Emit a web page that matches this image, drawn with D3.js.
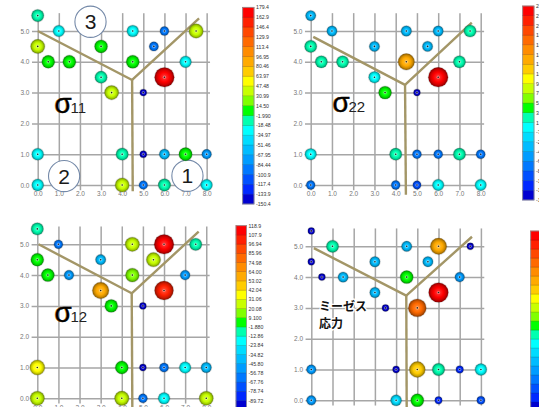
<!DOCTYPE html>
<html>
<head>
<meta charset="utf-8">
<script src="https://cdn.jsdelivr.net/npm/d3@7"></script>
<style>
html, body { margin: 0; padding: 0; background: #fff; }
svg { display: block; }
</style>
</head>
<body>
<svg id="chart" width="539" height="407"></svg>
<script>
// Node coordinates of the joint model (shared by all four stress maps)
const nodeX = [0, 1, 4.5, 6, 7.5, 0, 3, 5.5, 0.5, 1.5, 4.5, 7, 3, 6, 3.5, 5, 0, 4, 5, 6, 7, 8, 0, 4, 5, 6, 8];
const nodeY = [5.5, 5, 5, 5, 5, 4.5, 4.5, 4.5, 4, 4, 4, 4, 3.5, 3.5, 3, 3, 1, 1, 1, 1, 1, 1, 0, 0, 0, 0, 0];

// Stress values at each node
const sigma11 = [-10, -27, -25, -93, 40, 35, 6, -85, 5, 8, 10, -24, -12, 170, 36, -145, -20, -10, -140, -60, 12, -75, -19, 33, -100, -8, -28];
const sigma22 = [-37, -37, -30, -37, 20, 18, -37, -35, 20, 20, 140, 20, 0, 236, 40, -140, 0, 20, -75, -75, 20, -70, -78, -78, -95, -2, -5];
const sigma12 = [-7, -65, 25, 113, -7, 3, -40, 25, 4, -50, 15, -48, 62, 100, 3, -96, 36, 4, -96, -60, -18, -38, 25, 27, -62, -18, 22];
const mises   = [10, 115, 78, 195, 10, 12, 80, 78, 12, 76, 130, 65, 78, 258, 12, 225, 62, 12, 185, 118, 22, 105, 62, 90, 130, 20, 35];

// Colour legend boundaries, top to bottom
const legend11 = ["179.4", "162.9", "146.4", "129.9", "113.4", "96.95", "80.46", "63.97", "47.48", "30.99", "14.50", "-1.990", "-18.48", "-34.97", "-51.46", "-67.95", "-84.44", "-100.9", "-117.4", "-133.9", "-150.4"];
const legend22 = ["246.0", "226.5", "207.0", "187.5", "168.0", "148.5", "129.0", "109.5", "90.00", "70.50", "51.00", "31.50", "12.00", "-7.500", "-27.00", "-46.50", "-66.00", "-85.50", "-105.0", "-124.5", "-144.0"];
const legend12 = ["118.9", "107.9", "96.94", "85.96", "74.98", "64.00", "53.02", "42.04", "31.06", "20.08", "9.100", "-1.880", "-12.86", "-23.84", "-34.82", "-45.80", "-56.78", "-67.76", "-78.74", "-89.72", "-100.7"];
const legendMises = ["265.0", "252.0", "239.0", "226.0", "213.0", "200.0", "187.0", "174.0", "161.0", "148.0", "135.0", "122.0", "109.0", "96.00", "83.00", "70.00", "57.00", "44.00", "31.00", "18.00", "5.000"];

// Contour band colours, lowest band first
const bandColors = ["#0000d0", "#0028ff", "#0050ff", "#0078ff", "#009cff", "#00bcff", "#00dcff", "#00ffff", "#00ffb0", "#00ff00",
                    "#80ff00", "#c8ff00", "#ffff00", "#ffcc00", "#ffaa00", "#ff8c00", "#ff6a00", "#ff4800", "#ff2000", "#ff0000"];

const xTicks = [0, 1, 2, 3, 4, 5, 6, 7, 8];
const yTicks = [0, 1, 2, 3, 4, 5];

// Grain-boundary traces (branch: left end, triple junction, right end; stem: junction to bottom)
const branch11 = [[0, 5.0], [4.47, 3.41], [7.64, 5.41]];
const stem11 = [[4.47, 3.41], [4.5, -0.2]];
const branch22 = [[0.12, 4.81], [4.44, 3.25], [7.58, 5.27]];
const stem22 = [[4.44, 3.25], [4.48, -0.32]];
const branch12 = [[0.06, 5.0], [4.47, 3.41], [7.64, 5.41]];
const stem12 = [[4.47, 3.41], [4.5, -0.35]];
const branchMises = [[0.12, 4.94], [4.48, 3.40], [7.58, 5.31]];
const stemMises = [[4.48, 3.40], [4.5, -0.35]];

const svg = d3.select("#chart");
const defs = svg.append("defs");

// One shaded-sphere gradient per band colour
bandColors.forEach((c, i) => {
  const g = defs.append("radialGradient").attr("id", "ball" + i)
    .attr("cx", "50%").attr("cy", "50%").attr("r", "50%");
  g.append("stop").attr("offset", "0%").attr("stop-color", d3.interpolateRgb(c, "#fff")(0.25));
  g.append("stop").attr("offset", "50%").attr("stop-color", c);
  g.append("stop").attr("offset", "76%").attr("stop-color", d3.rgb(c).darker(0.55).formatHex());
  g.append("stop").attr("offset", "100%").attr("stop-color", d3.rgb(c).darker(1.8).formatHex());
});

function drawPanel(o) {
  const x = d3.scaleLinear().domain([0, 8]).range([o.x0, o.x0 + 8 * o.xStep]);
  const y = d3.scaleLinear().domain([0, 5]).range([o.y0, o.y0 - 5 * o.yStep]);
  const g = svg.append("g");

  const top = y(5.58), bottom = y(-0.17), left = x(-0.27), right = x(8.16);

  const styleAxis = a => {
    a.attr("font-family", "'Liberation Sans', Arial, sans-serif").attr("font-size", 6.5);
    a.select(".domain").remove();
    a.selectAll(".tick line").attr("stroke", "#a6a6a6").attr("stroke-width", 1.5);
    a.selectAll(".tick text").attr("fill", "#777");
  };

  g.append("g").attr("transform", `translate(0,${bottom})`)
    .call(d3.axisBottom(x).tickValues(xTicks).tickFormat(d3.format(".1f"))
      .tickSize(-(bottom - top)).tickPadding(1.5))
    .call(styleAxis);

  g.append("g").attr("transform", `translate(${left},0)`)
    .call(d3.axisLeft(y).tickValues(yTicks).tickFormat(d3.format(".1f"))
      .tickSize(-(right - left)).tickPadding(2.5))
    .call(styleAxis);

  if (o.extra) o.extra(g, x, y);

  // boundary traces
  const line = d3.line().x(d => x(d[0])).y(d => y(d[1]));
  [o.branch, o.stem].forEach(pts => {
    g.append("path").attr("d", line(pts)).attr("fill", "none")
      .attr("stroke", "#a39667").attr("stroke-width", 2.4).attr("stroke-linejoin", "round");
  });

  // colour scale from the legend boundaries
  const bounds = o.legend.map(Number).slice().reverse();
  const color = d3.scaleThreshold().domain(bounds.slice(1, 20)).range(d3.range(20));
  const radius = d3.scaleLinear().domain([bounds[0], bounds[20]]).range([3.3, 10]);

  const nodes = o.values.map((v, i) => ({ x: nodeX[i], y: nodeY[i], v }))
    .sort((a, b) => a.v - b.v);
  const balls = g.append("g").selectAll("g").data(nodes).join("g")
    .attr("transform", d => `translate(${x(d.x)},${y(d.y)})`);
  balls.append("circle").attr("r", d => radius(d.v) + 0.7).attr("fill", "#000").attr("opacity", 0.15);
  balls.append("circle").attr("r", d => radius(d.v)).attr("fill", d => `url(#ball${color(d.v)})`);
  balls.append("circle").attr("r", 1.6).attr("fill", "#fff").attr("opacity", 0.35);
  balls.append("circle").attr("r", 0.8).attr("fill", "#222");

  // legend bar
  const yb = d3.scaleLinear().domain([bounds[0], bounds[20]]).range([o.bar.bottom, o.bar.top]);
  const bar = svg.append("g");
  bar.selectAll("rect").data(d3.range(20)).join("rect")
    .attr("x", o.bar.left).attr("width", o.bar.width)
    .attr("y", k => yb(bounds[k + 1])).attr("height", k => yb(bounds[k]) - yb(bounds[k + 1]))
    .attr("fill", k => bandColors[k])
    .attr("stroke", k => d3.rgb(bandColors[k]).darker(0.8).formatHex()).attr("stroke-width", 0.5);
  bar.append("rect").attr("x", o.bar.left).attr("width", o.bar.width)
    .attr("y", o.bar.top).attr("height", o.bar.bottom - o.bar.top)
    .attr("fill", "none").attr("stroke", "#9a9a9a").attr("stroke-width", 0.8);
  if (o.bar.labels) {
    const labels = o.legend.slice().reverse();
    bar.append("g").attr("transform", `translate(${o.bar.left + o.bar.width},0)`)
      .call(d3.axisRight(yb).tickValues(bounds).tickFormat((d, i) => labels[i]).tickSize(0).tickPadding(2))
      .call(a => {
        a.attr("font-family", "'Liberation Sans Narrow', 'Liberation Sans', Arial, sans-serif").attr("font-size", 5.2);
        a.select(".domain").remove();
        a.selectAll("text").attr("fill", "#333");
      });
  }

  if (o.title) o.title(g);
}

// callout circles used in the first map
function callouts(g, x, y) {
  const marks = [{ n: "3", cx: 2.5, cy: 5.3 }, { n: "2", cx: 1.25, cy: 0.29 }, { n: "1", cx: 7.09, cy: 0.3 }];
  marks.forEach(m => {
    g.append("circle").attr("cx", x(m.cx)).attr("cy", y(m.cy)).attr("r", 15.6)
      .attr("fill", "#fff").attr("stroke", "#7489a8").attr("stroke-width", 1.1);
    g.append("text").attr("x", x(m.cx)).attr("y", y(m.cy) + 7.5).attr("text-anchor", "middle")
      .attr("font-family", "'Liberation Sans', Arial, sans-serif").attr("font-size", 21)
      .attr("fill", "#1a1a1a").text(m.n);
  });
}

function sigmaTitle(sx, sy, sub) {
  return g => {
    g.append("text").attr("x", sx - 0.8).attr("y", sy)
      .attr("font-family", "'Liberation Sans', Arial, sans-serif").attr("font-size", 28)
      .attr("fill", "#e39a3a").attr("opacity", 0.85).text("σ");
    g.append("text").attr("x", sx).attr("y", sy)
      .attr("font-family", "'Liberation Sans', Arial, sans-serif").attr("font-size", 28)
      .attr("fill", "#000").attr("stroke", "#000").attr("stroke-width", 0.3).text("σ");
    g.append("text").attr("x", sx + 16).attr("y", sy)
      .attr("font-family", "'Liberation Sans', Arial, sans-serif").attr("font-size", 15)
      .attr("fill", "#222").text(sub);
  };
}

drawPanel({
  x0: 37.7, xStep: 21.12, y0: 185, yStep: 30.8,
  values: sigma11, legend: legend11, branch: branch11, stem: stem11,
  bar: { left: 242.7, width: 11.3, top: 7.3, bottom: 204, labels: true },
  extra: callouts, title: sigmaTitle(54.5, 113, "11")
});

drawPanel({
  x0: 310.7, xStep: 21.25, y0: 185, yStep: 30.8,
  values: sigma22, legend: legend22, branch: branch22, stem: stem22,
  bar: { left: 522.7, width: 11.3, top: 6, bottom: 200, labels: true },
  title: sigmaTitle(332.5, 112, "22")
});

drawPanel({
  x0: 37.3, xStep: 21.12, y0: 398.3, yStep: 30.8,
  values: sigma12, legend: legend12, branch: branch12, stem: stem12,
  bar: { left: 236, width: 10.6, top: 225.7, bottom: 409.7, labels: true },
  title: sigmaTitle(54.5, 322, "12")
});

drawPanel({
  x0: 311.3, xStep: 21.2, y0: 400.3, yStep: 30.8,
  values: mises, legend: legendMises, branch: branchMises, stem: stemMises,
  bar: { left: 530.7, width: 11, top: 231, bottom: 411, labels: false },
  title: g => {
    ["ミーゼス", "応力"].forEach((t, i) => {
      g.append("text").attr("x", 319).attr("y", 311 + i * 16.5)
        .attr("font-family", "'Noto Sans CJK JP', sans-serif").attr("font-weight", "bold")
        .attr("font-size", 12).attr("fill", "#111")
        .attr("stroke", "#fff").attr("stroke-width", 2.5).attr("paint-order", "stroke")
        .text(t);
    });
  }
});
</script>
</body>
</html>
